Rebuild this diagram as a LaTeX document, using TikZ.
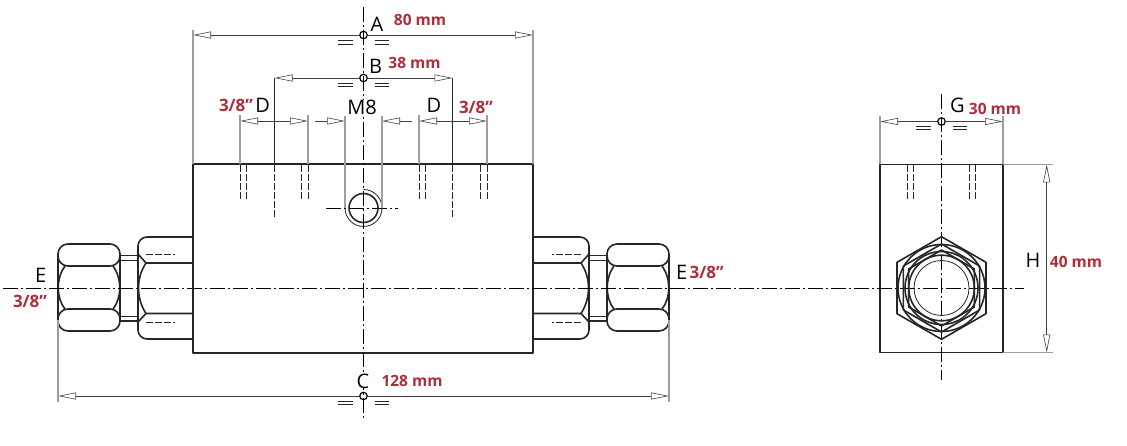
\documentclass[tikz,border=0pt]{standalone}
\usepackage{fontspec}
\setmainfont{Open Sans}
\usetikzlibrary{arrows.meta}
\definecolor{dimred}{RGB}{176,44,56}
\tikzset{
  part/.style={line width=1.6pt,line join=round,black!85},
  thinpart/.style={line width=0.8pt,black!85},
  hidden/.style={line width=0.9pt,dash pattern=on 7pt off 2pt,black!85},
  axis/.style={line width=0.9pt,dash pattern=on 15pt off 3pt on 2pt off 3pt},
  ext/.style={line width=1.1pt,black!38},
  dim/.style={line width=0.8pt,black!75,-{Triangle[open,length=18pt,width=7pt,line width=0.6pt]}},
  dimboth/.style={line width=0.8pt,black!75,{Triangle[open,length=18pt,width=7pt,line width=0.6pt]}-{Triangle[open,length=18pt,width=7pt,line width=0.6pt]}},
  letter/.style={font=\fontsize{20}{20}\selectfont,inner sep=0pt},
  size/.style={font=\fontsize{15.5}{16}\selectfont\bfseries,text=dimred,inner sep=0pt},
  inch/.style={size,font=\fontsize{17}{17}\selectfont\bfseries},
  ring/.style={circle,draw,line width=1.2pt,inner sep=0pt,minimum size=7.5pt}
}
\newcommand{\fitting}{%
  \draw[part,rounded corners=10pt] (58,244) rectangle (120,266);
  \draw[part,rounded corners=10pt] (58,309) rectangle (120,331);
  \draw[part] (58,255) -- (58,320);
  \draw[part] (65,266) .. controls (56,278) and (56,298) .. (65,309);
  \draw[part] (113,266) .. controls (122,278) and (122,298) .. (113,309);
  \draw[part] (120,255) -- (120,321);
  \draw[part] (138,250) -- (138,326);
  \draw[thinpart] (120,255) -- (138,255) (120,260.5) -- (138,260.5);
  \draw[thinpart] (120,316) -- (138,316);
  \draw[part] (120,321) -- (138,321);
  \draw[part,rounded corners=9pt] (193,237) -- (138,237) -- (138,256);
  \draw[part,rounded corners=9pt] (193,339) -- (138,339) -- (138,320);
  \draw[part] (138,254) -- (146,263) -- (193,263);
  \draw[part] (138,322) -- (146,313.5) -- (193,313.5);
  \draw[part] (146,263) .. controls (136,278) and (136,298) .. (146,313.5);
  \draw[hidden] (146,254.5) -- (175,254.5);
  \draw[hidden] (146,322) -- (175,322);
}
\begin{document}
\begin{tikzpicture}[x=1pt,y=-1pt]
    \useasboundingbox (0,0) rectangle (1127,446);

    % body and end view
    \draw[part] (193,164) rectangle (533,353);
    \draw[part] (880,164.5) rectangle (1003,352.5);
    \fitting
    \begin{scope}[xshift=727pt,xscale=-1]
      \fitting
    \end{scope}

    % axes
    \coordinate (axis-l) at (3,288);
    \coordinate (axis-r) at (1024,288);
    \coordinate (main-t) at (363.5,7);
    \coordinate (main-b) at (363.5,421);
    \coordinate (end-t) at (941.5,94);
    \coordinate (end-b) at (941.5,380);
    \coordinate (m8-l) at (326,208);
    \coordinate (m8-r) at (398,208);
    \path[axis] (axis-l) edge (axis-r);
    \path[axis] (main-t) edge (main-b);
    \path[axis] (end-t) edge (end-b);
    \path[axis] (m8-l) edge (m8-r);

    % threaded hole
    \draw[part] (363.5,208) circle (14.5);
    \draw[thinpart] (363.5,189.5) arc (-90:180:18.5);

    % port on the end view
    \draw[part] (941.5,236.7) -- (986,262.3) -- (986,313.7) -- (941.5,339.3)
      -- (897,313.7) -- (897,262.3) -- cycle;
    \draw[part] (941.5,244) -- (979.6,266) -- (979.6,310) -- (941.5,332)
      -- (903.4,310) -- (903.4,266) -- cycle;
    \begin{scope}
      \clip (941.5,236.7) -- (986,262.3) -- (986,313.7) -- (941.5,339.3)
        -- (897,313.7) -- (897,262.3) -- cycle;
      \draw[part] (941.5,288) circle (43.5);
    \end{scope}
    \draw[part] (941.5,250) -- (974.4,269) -- (974.4,307) -- (941.5,326)
      -- (908.6,307) -- (908.6,269) -- cycle;
    \draw[part] (941.5,288) circle (36.5);
    \draw[part] (941.5,288) circle (32.8);
    \draw[thinpart] (941.5,288) circle (27.5);

    % hidden holes
    \foreach \hx in {240,246,301.5,308,419,425,480.5,487,907.3,913.7,969.3,975.7}{
      \draw[hidden] (\hx,165) -- (\hx,200);
    }
    \foreach \hx in {274.5,452.5}{
      \draw[hidden] (\hx,165) -- (\hx,217);
    }

    % equal marks
    \foreach \cx/\cy in {363.5/42.5,363.5/85,363.5/403,941.5/128}{
      \draw[thinpart] (\cx-25.5,\cy-1.7) -- (\cx-11,\cy-1.7) (\cx-25.5,\cy+1.7) -- (\cx-11,\cy+1.7);
      \draw[thinpart] (\cx+11,\cy-1.7) -- (\cx+25.5,\cy-1.7) (\cx+11,\cy+1.7) -- (\cx+25.5,\cy+1.7);
    }

    % dimension points
    \node[ring] (ptA) at (363.5,35) {};
    \node[ring] (ptB) at (363.5,78) {};
    \node[ring] (ptC) at (363.5,396) {};
    \node[ring] (ptG) at (941.5,121.5) {};

    \coordinate (A-l) at (193,35);
    \coordinate (A-r) at (533,35);
    \coordinate (B-l) at (274.5,78);
    \coordinate (B-r) at (452.5,78);
    \coordinate (C-l) at (58,396);
    \coordinate (C-r) at (669,396);
    \coordinate (G-l) at (880,121.5);
    \coordinate (G-r) at (1003,121.5);
    \coordinate (H-t) at (1046.7,164.5);
    \coordinate (H-b) at (1046.7,352.5);
    \coordinate (D1-l) at (240,121);
    \coordinate (D1-r) at (308,121);
    \coordinate (D2-l) at (419,121);
    \coordinate (D2-r) at (487,121);
    \coordinate (M-l) at (345,121);
    \coordinate (M-r) at (382,121);
    \coordinate (M-lo) at (315,121);
    \coordinate (M-ro) at (412,121);

    \path[dim] (ptA) edge (A-l);
    \path[dim] (ptA) edge (A-r);
    \path[dim] (ptB) edge (B-l);
    \path[dim] (ptB) edge (B-r);
    \path[dim] (ptC) edge (C-l);
    \path[dim] (ptC) edge (C-r);
    \path[dim] (ptG) edge (G-l);
    \path[dim] (ptG) edge (G-r);
    \path[dimboth] (H-t) edge (H-b);
    \path[dimboth] (D1-l) edge (D1-r);
    \path[dimboth] (D2-l) edge (D2-r);
    \path[dim] (M-lo) edge (M-l);
    \path[dim] (M-ro) edge (M-r);

    % extension lines
    \draw[ext] (193,30) -- (193,164) (533,30) -- (533,164);
    \draw[thinpart] (274.5,78) -- (274.5,164) (452.5,78) -- (452.5,164);
    \foreach \ex in {240,308,419,487}{
      \draw[ext] (\ex,115) -- (\ex,164);
    }
    \draw[ext] (345,116) -- (345,208) (382,116) -- (382,208);
    \draw[ext] (58,320) -- (58,402) (669,320) -- (669,402);
    \draw[ext] (880,116) -- (880,164) (1003,116) -- (1003,164);
    \draw[ext] (1003,164.5) -- (1053,164.5) (1003,352.5) -- (1053,352.5);

    % labels
    \node[letter] (lblA) at (377,24) {A};
    \node[letter] (lblB) at (375.7,66) {B};
    \node[letter,fill=white] (lblC) at (363,381) {C};
    \node[letter] (lblD1) at (262.7,105) {D};
    \node[letter] (lblD2) at (434,105) {D};
    \node[letter,fill=white] (lblM) at (362,107.7) {M8};
    \node[letter] (lblE1) at (40.7,275) {E};
    \node[letter] (lblE2) at (681.7,272.7) {E};
    \node[letter] (lblG) at (957.3,105) {G};
    \node[letter] (lblH) at (1033,260.7) {H};

    \node[size] (sizeA) at (420,20) {80 mm};
    \node[size] (sizeB) at (414.5,63) {38 mm};
    \node[size] (sizeC) at (412,381) {128 mm};
    \node[size] (sizeG) at (995,109.3) {30 mm};
    \node[size] (sizeH) at (1076,261.7) {40 mm};
    \node[inch] (sizeD1) at (236,105) {3/8{\char34}};
    \node[inch] (sizeD2) at (476,107) {3/8{\char34}};
    \node[inch] (sizeE1) at (30,301.7) {3/8{\char34}};
    \node[inch] (sizeE2) at (706.7,272) {3/8{\char34}};
\end{tikzpicture}
\end{document}
